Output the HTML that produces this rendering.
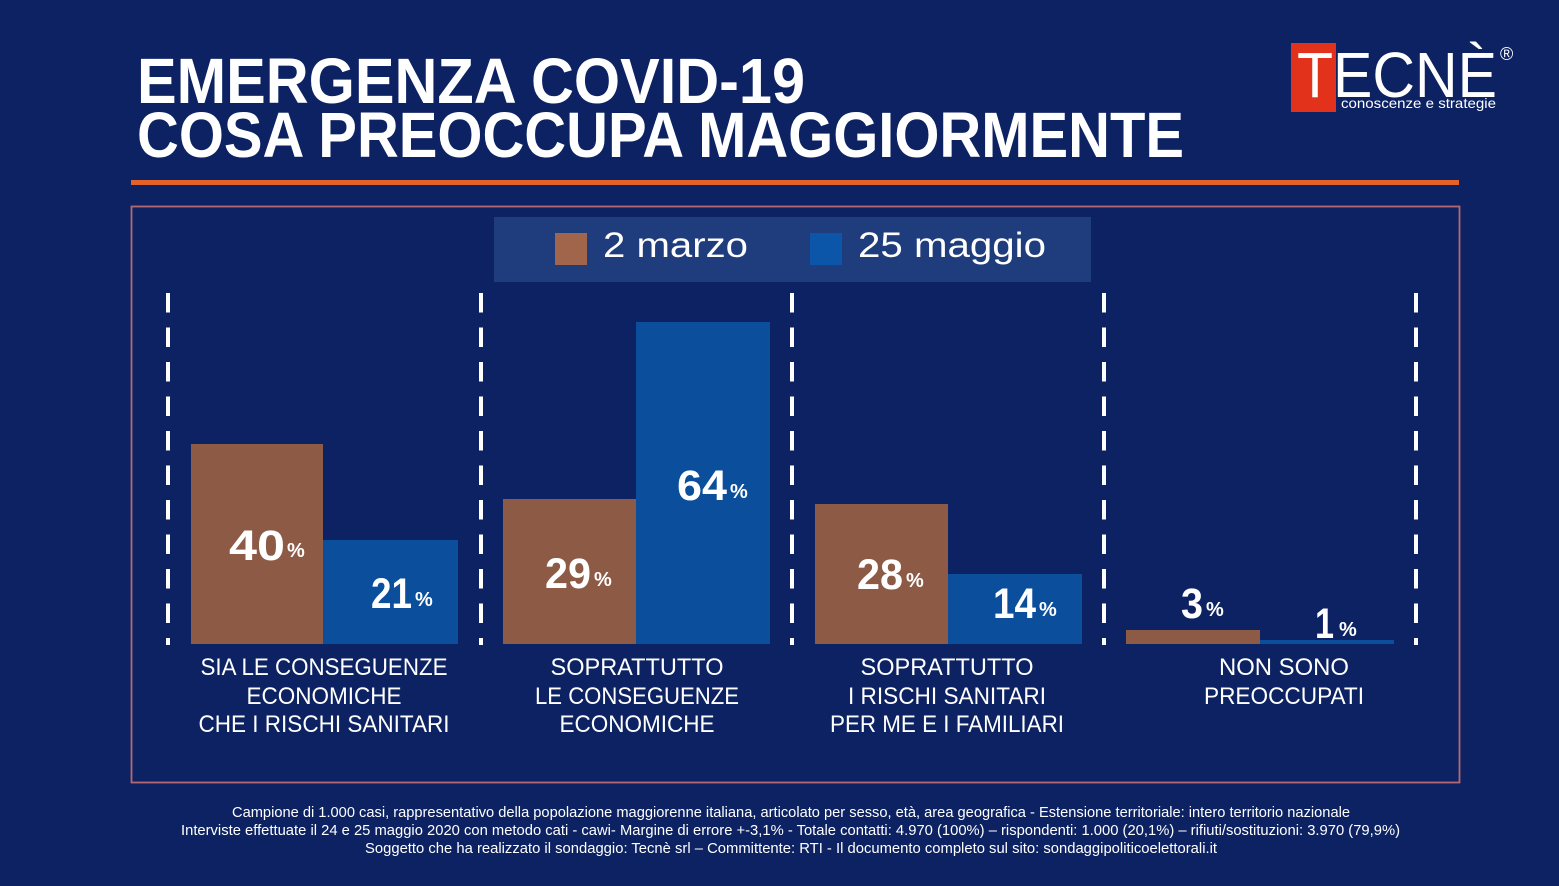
<!DOCTYPE html>
<html>
<head>
<meta charset="utf-8">
<style>
html,body{margin:0;padding:0;background:#0c2262;}
svg{display:block;}
text{font-family:"Liberation Sans",sans-serif;fill:#ffffff;}
</style>
</head>
<body>
<svg width="1559" height="886" viewBox="0 0 1559 886" xmlns="http://www.w3.org/2000/svg">
<rect x="0" y="0" width="1559" height="886" fill="#0c2262"/>

<!-- Title -->
<text x="137" y="103" font-size="64" font-weight="bold" textLength="668" lengthAdjust="spacingAndGlyphs">EMERGENZA COVID-19</text>
<text x="137" y="157" font-size="64" font-weight="bold" textLength="1047" lengthAdjust="spacingAndGlyphs">COSA PREOCCUPA MAGGIORMENTE</text>

<!-- Logo -->
<rect x="1291" y="43" width="45" height="69" fill="#e2321c"/>
<text x="1297" y="97" font-size="64" textLength="200" lengthAdjust="spacingAndGlyphs">TECNÈ</text>
<text x="1500" y="60" font-size="18">®</text>
<text x="1341" y="108" font-size="14" textLength="155" lengthAdjust="spacingAndGlyphs">conoscenze e strategie</text>

<!-- Orange rule -->
<rect x="131" y="180" width="1328" height="5" fill="#e4612a"/>

<!-- Box -->
<rect x="131.5" y="206.5" width="1328" height="576" fill="none" stroke="#b56a72" stroke-width="1.8"/>

<!-- Legend -->
<rect x="494" y="217" width="597" height="65" fill="#1f3c7c"/>
<rect x="555" y="233" width="32" height="32" fill="#a0654b"/>
<text x="603" y="257" font-size="35" textLength="145" lengthAdjust="spacingAndGlyphs">2 marzo</text>
<rect x="810" y="233" width="32" height="32" fill="#0b56a8"/>
<text x="858" y="257" font-size="35" textLength="188" lengthAdjust="spacingAndGlyphs">25 maggio</text>

<!-- Dashed separators -->
<g stroke="#ffffff" stroke-width="4" stroke-dasharray="19.5 15">
<line x1="168" y1="293" x2="168" y2="645"/>
<line x1="481" y1="293" x2="481" y2="645"/>
<line x1="792" y1="293" x2="792" y2="645"/>
<line x1="1104" y1="293" x2="1104" y2="645"/>
<line x1="1416" y1="293" x2="1416" y2="645"/>
</g>

<!-- Bars -->
<g fill="#8d5a46">
<rect x="191" y="444" width="132" height="200"/>
<rect x="503" y="499" width="133" height="145"/>
<rect x="815" y="504" width="133" height="140"/>
<rect x="1126" y="630" width="134" height="14"/>
</g>
<g fill="#0a4e9c">
<rect x="323" y="540" width="135" height="104"/>
<rect x="636" y="322" width="134" height="322"/>
<rect x="948" y="574" width="134" height="70"/>
<rect x="1260" y="640" width="134" height="4"/>
</g>

<!-- Value labels -->
<g font-weight="bold">
<text x="229" y="560" font-size="43" textLength="56" lengthAdjust="spacingAndGlyphs">40</text>
<text x="287" y="557" font-size="20">%</text>
<text x="371" y="608" font-size="43" textLength="41" lengthAdjust="spacingAndGlyphs">21</text>
<text x="415" y="606" font-size="20">%</text>
<text x="545" y="588" font-size="43" textLength="46" lengthAdjust="spacingAndGlyphs">29</text>
<text x="594" y="586" font-size="20">%</text>
<text x="677" y="500" font-size="43" textLength="50" lengthAdjust="spacingAndGlyphs">64</text>
<text x="730" y="498" font-size="20">%</text>
<text x="857" y="589" font-size="43" textLength="46" lengthAdjust="spacingAndGlyphs">28</text>
<text x="906" y="587" font-size="20">%</text>
<text x="993" y="618" font-size="43" textLength="43" lengthAdjust="spacingAndGlyphs">14</text>
<text x="1039" y="616" font-size="20">%</text>
<text x="1181" y="618" font-size="43" textLength="22" lengthAdjust="spacingAndGlyphs">3</text>
<text x="1206" y="616" font-size="20">%</text>
<text x="1315" y="638" font-size="43" textLength="19" lengthAdjust="spacingAndGlyphs">1</text>
<text x="1339" y="636" font-size="20">%</text>
</g>

<!-- Category labels -->
<g font-size="24" text-anchor="middle">
<text x="324" y="675" textLength="247" lengthAdjust="spacingAndGlyphs">SIA LE CONSEGUENZE</text>
<text x="324" y="704" textLength="155" lengthAdjust="spacingAndGlyphs">ECONOMICHE</text>
<text x="324" y="732" textLength="251" lengthAdjust="spacingAndGlyphs">CHE I RISCHI SANITARI</text>

<text x="637" y="675" textLength="173" lengthAdjust="spacingAndGlyphs">SOPRATTUTTO</text>
<text x="637" y="704" textLength="204" lengthAdjust="spacingAndGlyphs">LE CONSEGUENZE</text>
<text x="637" y="732" textLength="155" lengthAdjust="spacingAndGlyphs">ECONOMICHE</text>

<text x="947" y="675" textLength="173" lengthAdjust="spacingAndGlyphs">SOPRATTUTTO</text>
<text x="947" y="704" textLength="198" lengthAdjust="spacingAndGlyphs">I RISCHI SANITARI</text>
<text x="947" y="732" textLength="234" lengthAdjust="spacingAndGlyphs">PER ME E I FAMILIARI</text>

<text x="1284" y="675" textLength="130" lengthAdjust="spacingAndGlyphs">NON SONO</text>
<text x="1284" y="704" textLength="160" lengthAdjust="spacingAndGlyphs">PREOCCUPATI</text>
</g>

<!-- Footer -->
<g font-size="14.5" text-anchor="middle">
<text x="791" y="817" textLength="1118" lengthAdjust="spacingAndGlyphs">Campione di 1.000 casi, rappresentativo della popolazione maggiorenne italiana, articolato per sesso, età, area geografica - Estensione territoriale: intero territorio nazionale</text>
<text x="790.5" y="835" textLength="1219" lengthAdjust="spacingAndGlyphs">Interviste effettuate il 24 e 25 maggio 2020 con metodo cati -  cawi- Margine di errore +-3,1%  - Totale contatti: 4.970 (100%) – rispondenti:  1.000 (20,1%) – rifiuti/sostituzioni: 3.970 (79,9%)</text>
<text x="791" y="853" textLength="852" lengthAdjust="spacingAndGlyphs">Soggetto che ha realizzato il sondaggio: Tecnè srl – Committente: RTI - Il documento completo sul sito: sondaggipoliticoelettorali.it</text>
</g>
</svg>
</body>
</html>
